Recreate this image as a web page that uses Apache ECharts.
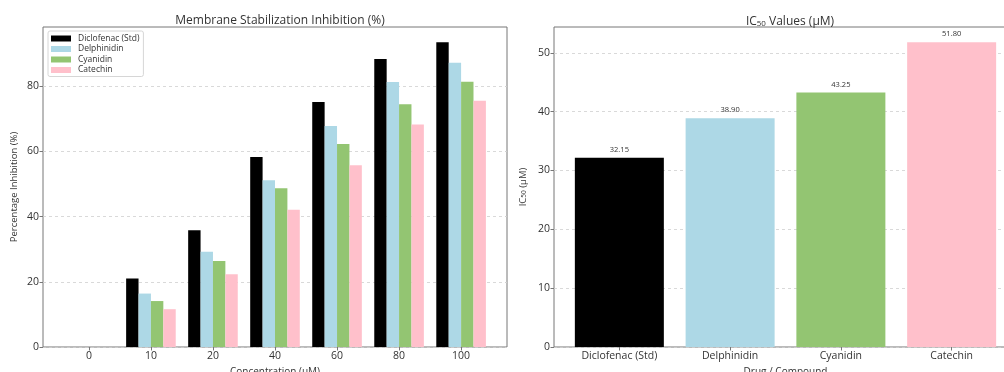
<!DOCTYPE html>
<html>
<head>
<meta charset="utf-8">
<script src="https://cdn.jsdelivr.net/npm/echarts@6/dist/echarts.min.js"></script>
<style>
html,body{margin:0;padding:0;background:#fff;overflow:hidden;}
#chart{width:1004px;height:372px;}
</style>
</head>
<body>
<div id="chart"></div>
<script>
// ---- data ----
const concentrations = ['0', '10', '20', '40', '60', '80', '100'];
const compounds = ['Diclofenac (Std)', 'Delphinidin', 'Cyanidin', 'Catechin'];
const diclofenac = [0, 21.0, 35.8, 58.3, 75.2, 88.4, 93.5];
const delphinidin = [0, 16.4, 29.2, 51.2, 67.8, 81.3, 87.2];
const cyanidin = [0, 14.1, 26.4, 48.7, 62.3, 74.5, 81.4];
const catechin = [0, 11.6, 22.3, 42.1, 55.8, 68.3, 75.6];
const ic50Values = [32.15, 38.90, 43.25, 51.80];
const leftYTicks = [0, 20, 40, 60, 80];
const rightYTicks = [0, 10, 20, 30, 40, 50];

const colors = ['#000000', '#ADD8E6', '#93C572', '#FFC0CB'];
const FONT = 'Open Sans';
const TXT = '#333';
const FRAME = '#777';

const inhibitionSeries = [diclofenac, delphinidin, cyanidin, catechin];
const concIdx = concentrations.map((_, i) => i);
const compIdx = compounds.map((_, i) => i);

const chart = echarts.init(document.getElementById('chart'), null, {renderer: 'canvas', width: 1004, height: 372});

const axisCommonY = {
  type: 'value',
  axisLine: {show: false, onZero: false},
  axisTick: {show: true, length: 3.5, lineStyle: {color: FRAME}},
  axisLabel: {fontFamily: FONT, fontSize: 10.5, color: TXT, margin: 4},
  splitLine: {show: true, lineStyle: {color: '#d0d0d0', type: [3, 3], width: 0.8}},
  nameLocation: 'middle',
  nameTextStyle: {fontFamily: FONT, fontSize: 9.5, color: TXT}
};

const option = {
  animation: false,
  backgroundColor: '#fff',
  textStyle: {fontFamily: FONT},
  title: [
    {text: 'Membrane Stabilization Inhibition (%)', left: 275, top: 10, textAlign: 'center',
     textStyle: {fontFamily: FONT, fontSize: 12, fontWeight: 'normal', color: TXT}},
    {text: '{a|IC}{s|50}{a| Values (μM)}', left: 785, top: 10, textAlign: 'center',
     textStyle: {fontFamily: FONT, fontSize: 12, fontWeight: 'normal', color: TXT,
       rich: {a: {fontFamily: FONT, fontSize: 12, color: TXT}, s: {fontFamily: FONT, fontSize: 8, color: TXT, verticalAlign: 'bottom', padding: [5, 0, 0, 0]}}}}
  ],
  legend: {
    data: compounds,
    orient: 'vertical',
    left: 48, top: 31,
    itemWidth: 20, itemHeight: 6, itemGap: 1.5,
    icon: 'rect',
    padding: [3, 4, 2, 3],
    borderColor: '#d6d6d6', borderWidth: 1, borderRadius: 2,
    backgroundColor: 'rgba(255,255,255,0.8)',
    textStyle: {fontFamily: FONT, fontSize: 8.5, color: TXT, padding: [0, 0, 0, 2]}
  },
  grid: [
    {left: 43, top: 27, width: 464, height: 320, show: true, borderColor: FRAME, borderWidth: 1, containLabel: false, outerBoundsMode: 'none'},
    {left: 554, top: 27, width: 463, height: 320, show: true, borderColor: FRAME, borderWidth: 1, containLabel: false, outerBoundsMode: 'none'}
  ],
  xAxis: [
    {
      gridIndex: 0, type: 'value', min: -0.74, max: 6.74,
      axisLine: {show: false},
      axisTick: {show: true, length: 3.5, lineStyle: {color: FRAME}, customValues: concIdx},
      axisLabel: {fontFamily: FONT, fontSize: 10.5, color: TXT, margin: 4, customValues: concIdx,
        formatter: v => concentrations[Math.round(v)] ?? ''},
      splitLine: {show: false},
      name: 'Concentration (μM)', nameLocation: 'middle', nameGap: 15,
      nameTextStyle: {fontFamily: FONT, fontSize: 10, color: TXT}
    },
    {
      gridIndex: 1, type: 'value', min: -0.59, max: 3.59,
      axisLine: {show: false},
      axisTick: {show: true, length: 3.5, lineStyle: {color: FRAME}, customValues: compIdx},
      axisLabel: {fontFamily: FONT, fontSize: 10.5, color: TXT, margin: 4, customValues: compIdx,
        formatter: v => compounds[Math.round(v)] ?? ''},
      splitLine: {show: false},
      name: 'Drug / Compound', nameLocation: 'middle', nameGap: 15,
      nameTextStyle: {fontFamily: FONT, fontSize: 10, color: TXT}
    }
  ],
  yAxis: [
    Object.assign({}, axisCommonY, {
      gridIndex: 0, min: 0, max: 98.2, interval: 20,
      axisLabel: Object.assign({}, axisCommonY.axisLabel, {customValues: leftYTicks}),
      axisTick: Object.assign({}, axisCommonY.axisTick, {customValues: leftYTicks}),
      name: 'Percentage Inhibition (%)', nameGap: 24
    }),
    Object.assign({}, axisCommonY, {
      gridIndex: 1, min: 0, max: 54.39, interval: 10,
      axisLabel: Object.assign({}, axisCommonY.axisLabel, {customValues: rightYTicks}),
      axisTick: Object.assign({}, axisCommonY.axisTick, {customValues: rightYTicks}),
      name: '{a|IC}{s|50}{a| (μM)}', nameGap: 26,
      nameTextStyle: {fontFamily: FONT, fontSize: 9.5, color: TXT,
        rich: {a: {fontFamily: FONT, fontSize: 9.5, color: TXT}, s: {fontFamily: FONT, fontSize: 6.5, color: TXT, verticalAlign: 'bottom', padding: [3, 0, 0, 0]}}}
    })
  ],
  series: [
    ...compounds.map((name, k) => ({
      name: name, type: 'bar', xAxisIndex: 0, yAxisIndex: 0,
      barWidth: 12.4, barGap: '0%',
      itemStyle: {color: colors[k]},
      data: concIdx.map(i => [i, inhibitionSeries[k][i]])
    })),
    {
      name: 'IC50', type: 'bar', xAxisIndex: 1, yAxisIndex: 1,
      barWidth: 89,
      data: compIdx.map(i => ({value: [i, ic50Values[i]], itemStyle: {color: colors[i]}})),
      label: {show: true, position: 'top', distance: 4, fontFamily: FONT, fontSize: 7.5, color: TXT,
        formatter: p => p.value[1].toFixed(2)}
    }
  ]
};
chart.setOption(option);
</script>
</body>
</html>
